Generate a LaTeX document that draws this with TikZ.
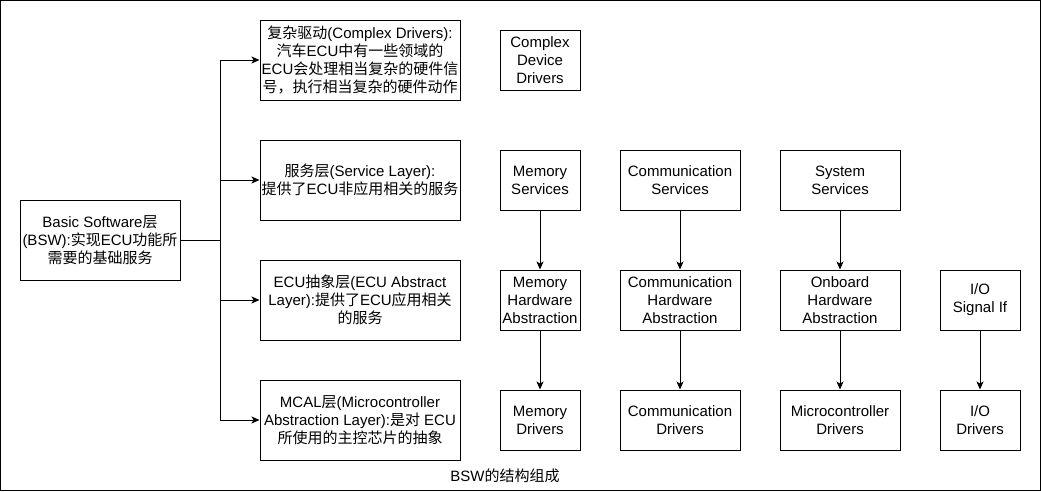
\documentclass[tikz,border=0pt]{standalone}
\usepackage{fontspec}
\setmainfont{Liberation Sans}
\newfontfamily\cjk{Noto Sans CJK SC}
\newcommand{\zh}[1]{{\cjk #1}}
\usetikzlibrary{arrows.meta}

\begin{document}
\begin{tikzpicture}[
        x=1pt, y=-1pt,
        inner sep=0pt,
        line width=1pt,
        font=\fontsize{15}{18}\selectfont,
        box/.style={draw, align=center, minimum width=80pt, minimum height=60pt},
        wide/.style={box, minimum width=120pt},
        layer/.style={draw, align=center, minimum width=200pt, minimum height=80pt},
        >={Stealth[length=8pt,width=7pt,inset=2pt]}
      ]
      \useasboundingbox (0,0) rectangle (1041,491);
      \draw (0.5,0.5) rectangle (1040,490);
      \node (bsw) [layer, minimum width=160pt] at (100,240)
        {Basic Software\zh{层}\\(BSW):\zh{实现}ECU\zh{功能所}\\\zh{需要的基础服务}};
      \node (cd) [layer] at (360,60)
        {\zh{复杂驱动}(Complex Drivers):\\\zh{汽车}ECU\zh{中有一些领域的}\\ECU\zh{会处理相当复杂的硬件信}\\\zh{号，执行相当复杂的硬件动作}};
      \node (sl) [layer] at (360,180)
        {\zh{服务层}(Service Layer):\\\zh{提供了}ECU\zh{非应用相关的服务}};
      \node (ea) [layer] at (360,300)
        {ECU\zh{抽象层}(ECU Abstract\\Layer):\zh{提供了}ECU\zh{应用相关}\\\zh{的服务}};
      \node (mcal) [layer] at (360,420)
        {MCAL\zh{层}(Microcontroller\\Abstraction Layer):\zh{是对} ECU\\\zh{所使用的主控芯片的抽象}};
      \coordinate (j) at (220,240);
      \draw[->] (bsw.east) -- (j) |- (cd.west);
      \draw[->] (j) |- (sl.west);
      \draw[->] (j) |- (ea.west);
      \draw[->] (j) |- (mcal.west);
      % right part
      \node (cdd) [box] at (540,60) {Complex\\Device\\Drivers};
      \node (ms) [box] at (540,180) {Memory\\Services};
      \node (cs) [wide] at (680,180) {Communication\\Services};
      \node (ss) [wide] at (840,180) {System\\Services};
      \node (mha) [box] at (540,300) {Memory\\Hardware\\Abstraction};
      \node (cha) [wide] at (680,300) {Communication\\Hardware\\Abstraction};
      \node (oha) [wide] at (840,300) {Onboard\\Hardware\\Abstraction};
      \node (iosig) [box] at (980,300) {I/O\\Signal If};
      \node (md) [box] at (540,420) {Memory\\Drivers};
      \node (cdr) [wide] at (680,420) {Communication\\Drivers};
      \node (mcd) [wide] at (840,420) {Microcontroller\\Drivers};
      \node (iod) [box] at (980,420) {I/O\\Drivers};
      \draw[->] (ms) -- (mha);
      \draw[->] (mha) -- (md);
      \draw[->] (cs) -- (cha);
      \draw[->] (cha) -- (cdr);
      \draw[->] (ss) -- (oha);
      \draw[->] (oha) -- (mcd);
      \draw[->] (iosig) -- (iod);
      \node (title) at (505,476) {BSW\zh{的结构组成}};
    \end{tikzpicture}
\end{document}
